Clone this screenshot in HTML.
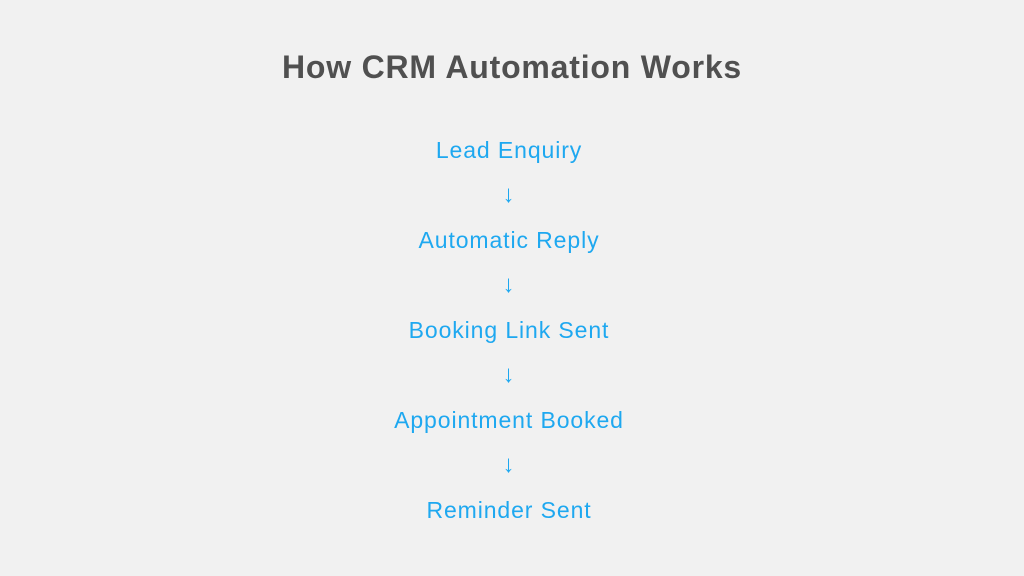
<!DOCTYPE html>
<html><head><meta charset="utf-8"><style>
html,body{margin:0;padding:0;}
body{width:1024px;height:576px;background:#f1f1f1;position:relative;overflow:hidden;font-family:"Liberation Sans",sans-serif;}
.t{position:absolute;left:0;width:1024px;text-align:center;top:47px;font-size:32px;line-height:40px;font-weight:bold;color:#505050;letter-spacing:0.8px;}
.i{position:absolute;left:0;width:1018px;text-align:center;font-size:23px;line-height:30px;color:#1ea8f0;letter-spacing:0.9px;}
.a{font-size:24px;}
</style></head><body>
<div class="t">How CRM Automation Works</div>
<div class="i" style="top:135px">Lead Enquiry</div>
<div class="i a" style="top:180px">↓</div>
<div class="i" style="top:225px">Automatic Reply</div>
<div class="i a" style="top:270px">↓</div>
<div class="i" style="top:315px">Booking Link Sent</div>
<div class="i a" style="top:360px">↓</div>
<div class="i" style="top:405px">Appointment Booked</div>
<div class="i a" style="top:450px">↓</div>
<div class="i" style="top:495px">Reminder Sent</div>
</body></html>
